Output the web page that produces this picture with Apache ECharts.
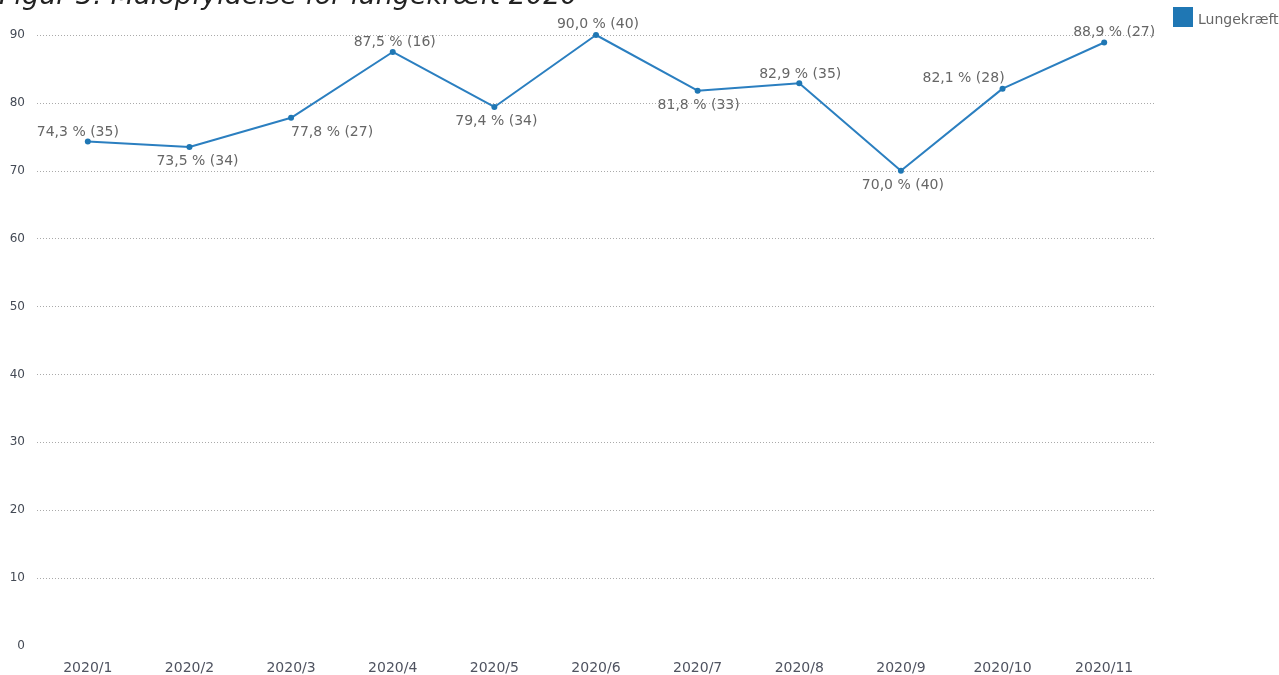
<!DOCTYPE html>
<html>
<head>
<meta charset="utf-8">
<script src="https://cdn.jsdelivr.net/npm/echarts@6/dist/echarts.min.js"></script>
<style>
html,body{margin:0;padding:0;background:#fff;}
#chart{width:1279px;height:675px;}
</style>
</head>
<body>
<div id="chart"></div>
<script>
const titleText = 'Figur 3: Målopfyldelse for lungekræft 2020';
const seriesName = 'Lungekræft';
const categories = ['2020/1','2020/2','2020/3','2020/4','2020/5','2020/6','2020/7','2020/8','2020/9','2020/10','2020/11'];
const percentValues = [74.3, 73.5, 77.8, 87.5, 79.4, 90.0, 81.8, 82.9, 70.0, 82.1, 88.9];
const patientCounts = [35, 34, 27, 16, 34, 40, 33, 35, 40, 28, 27];
const yTicks = [0, 10, 20, 30, 40, 50, 60, 70, 80, 90];

// label placement (style only)
const labelPos = ['top','bottom','bottom','top','bottom','top','bottom','top','bottom','top','top'];
const labelShift = [[-10,6],[8,-1],[41,0],[2,5],[2,-1],[2,4],[1,0],[1,6],[2,0],[-39,5],[10,5]];

const FONT = "'DejaVu Sans', Verdana, sans-serif";
const fmt = (v, n) => v.toFixed(1).replace('.', ',') + ' % (' + n + ')';

const data = percentValues.map((v, i) => ({
  value: v,
  label: {
    position: labelPos[i],
    offset: labelShift[i],
    formatter: fmt(v, patientCounts[i])
  }
}));

const chart = echarts.init(document.getElementById('chart'), null, {renderer: 'canvas'});
chart.setOption({
  animation: false,
  backgroundColor: '#fff',
  textStyle: {fontFamily: FONT},
  title: {
    text: titleText,
    left: -1,
    top: -17,
    padding: 0,
    textStyle: {fontFamily: FONT, fontStyle: 'italic', fontWeight: 'normal', fontSize: 27, color: '#222'}
  },
  legend: {
    data: [seriesName],
    top: 7,
    left: 1173,
    padding: 0,
    itemWidth: 20,
    itemHeight: 20,
    itemGap: 6,
    icon: 'rect',
    formatter: '{a|{name}}',
    textStyle: {
      fontFamily: FONT, fontSize: 14, color: '#666',
      rich: {a: {fontFamily: FONT, fontSize: 14, color: '#666', padding: [6, 0, 0, 0]}}
    }
  },
  grid: {left: 37, right: 124, top: 35, bottom: 29, containLabel: false},
  xAxis: {
    type: 'category',
    data: categories,
    boundaryGap: true,
    axisLine: {show: false},
    axisTick: {show: false},
    axisLabel: {margin: 15, color: '#4f5360', fontSize: 14, fontFamily: FONT}
  },
  yAxis: {
    type: 'value',
    min: yTicks[0],
    max: yTicks[yTicks.length - 1],
    interval: yTicks[1] - yTicks[0],
    axisLine: {show: false},
    axisTick: {show: false},
    axisLabel: {margin: 12, color: '#444a55', fontSize: 12, fontFamily: FONT},
    splitLine: {show: true, showMinLine: false, lineStyle: {color: '#aaa', type: [1, 2], width: 1}}
  },
  series: [{
    name: seriesName,
    type: 'line',
    data: data,
    symbol: 'circle',
    symbolSize: 6,
    itemStyle: {color: '#1f77b4'},
    lineStyle: {color: '#2b7fc0', width: 2},
    label: {show: true, color: '#666', fontSize: 14, fontFamily: FONT, distance: 5}
  }]
});
</script>
</body>
</html>
